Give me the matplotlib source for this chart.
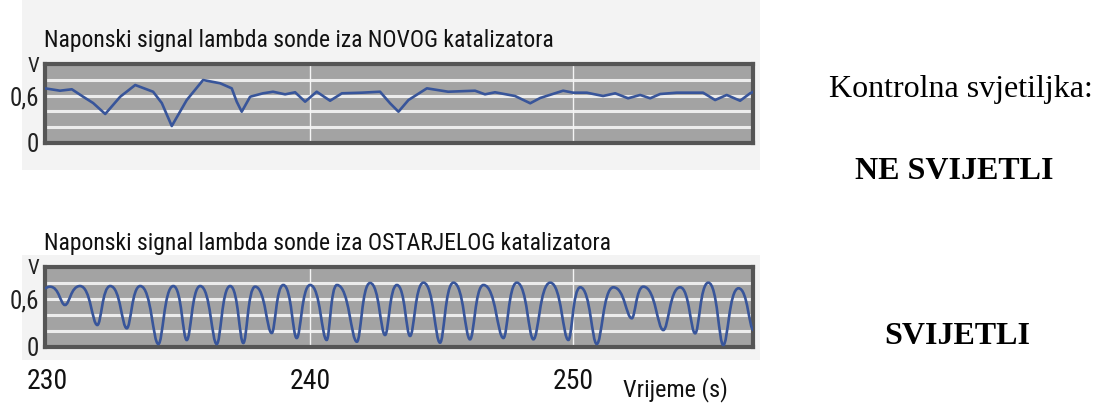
import matplotlib
matplotlib.use("Agg")
import matplotlib.pyplot as plt
from matplotlib import font_manager
from matplotlib.path import Path
from matplotlib.patches import PathPatch, Rectangle

# ---------------- data ----------------
title_new = "Naponski signal lambda sonde iza NOVOG katalizatora"
title_old = "Naponski signal lambda sonde iza OSTARJELOG katalizatora"
lamp_label = "Kontrolna svjetiljka:"
lamp_new = "NE SVIJETLI"
lamp_old = "SVIJETLI"
x_label = "Vrijeme (s)"

x_ticks = [230, 240, 250]
x_ticklabels = ["230", "240", "250"]
y_ticks = [0, 0.6, 1.0]
y_ticklabels = ["0", "0,6", "V"]

# new catalyst signal (time s, voltage V)
new_t = [229.92, 230.49, 230.94, 231.37, 231.75, 232.21, 232.78, 233.35, 234.03, 234.36,
         234.74, 235.31, 235.93, 236.58, 237.02, 237.21, 237.40, 237.72, 238.21, 238.59,
         239.05, 239.43, 239.81, 240.25, 240.76, 241.21, 241.97, 242.66, 243.04, 243.36,
         243.74, 244.44, 245.25, 246.27, 246.65, 247.03, 247.79, 248.37, 248.75, 249.62,
         250.00, 250.52, 251.14, 251.60, 252.09, 252.55, 252.93, 253.31, 253.94, 254.94,
         255.40, 255.84, 256.35, 256.73, 256.84]
new_v = [0.692, 0.662, 0.680, 0.586, 0.506, 0.367, 0.586, 0.734, 0.649, 0.506,
         0.215, 0.544, 0.797, 0.756, 0.692, 0.523, 0.396, 0.586, 0.629, 0.649,
         0.616, 0.642, 0.523, 0.649, 0.535, 0.629, 0.637, 0.649, 0.503, 0.396,
         0.544, 0.692, 0.649, 0.662, 0.616, 0.642, 0.595, 0.503, 0.570, 0.662,
         0.637, 0.637, 0.595, 0.629, 0.566, 0.608, 0.566, 0.620, 0.637, 0.637,
         0.544, 0.608, 0.535, 0.629, 0.646]

# aged catalyst signal: successive turning points (time s, voltage V)
old_t = [229.92, 230.11, 230.68, 231.25, 231.91, 232.40, 233.03, 233.54, 234.23, 234.80,
         235.31, 235.82, 236.45, 236.96, 237.46, 237.91, 238.54, 238.98, 239.49, 240.00,
         240.63, 241.02, 241.78, 242.28, 242.85, 243.30, 243.80, 244.31, 244.94, 245.45,
         246.08, 246.59, 247.35, 247.86, 248.49, 249.13, 249.82, 250.27, 250.90, 251.53,
         252.23, 252.67, 253.43, 254.07, 254.64, 255.14, 255.71, 256.29, 256.86]
old_v = [0.734, 0.754, 0.525, 0.762, 0.275, 0.762, 0.234, 0.762, 0.037, 0.762,
         0.087, 0.762, 0.037, 0.762, 0.050, 0.754, 0.175, 0.775, 0.112, 0.775,
         0.088, 0.775, 0.066, 0.800, 0.150, 0.775, 0.138, 0.804, 0.054, 0.804,
         0.096, 0.775, 0.112, 0.804, 0.096, 0.804, 0.088, 0.746, 0.038, 0.746,
         0.359, 0.754, 0.212, 0.746, 0.171, 0.804, 0.025, 0.734, 0.212]

# ---------------- styling ----------------
W, H = 1096, 407
DPI = 100
avail = {f.name for f in font_manager.fontManager.ttflist}
narrow = None
for cand in ["Liberation Sans Narrow", "Arial Narrow", "Roboto Condensed", "Open Sans Condensed"]:
    if cand in avail:
        narrow = cand
        break
if narrow is None:
    narrow_kw = dict(family="DejaVu Sans", stretch="condensed")
else:
    narrow_kw = dict(family=narrow)

PLOT_BG = "#a3a3a3"
GRID = "#ececec"
FRAME = "#555555"
LINE = "#38559a"
PANEL_BG = "#f3f3f3"

fig = plt.figure(figsize=(W / DPI, H / DPI), dpi=DPI)
fig.patch.set_facecolor("white")


def fx(px):
    return px / W


def fy(py):
    return 1 - py / H


# light backgrounds behind the screenshots
fig.add_artist(Rectangle((fx(22), fy(170)), fx(760) - fx(22), fy(0) - fy(170),
                         transform=fig.transFigure, facecolor=PANEL_BG, edgecolor="none", zorder=0))
fig.add_artist(Rectangle((fx(22), fy(360)), fx(760) - fx(22), fy(255) - fy(360),
                         transform=fig.transFigure, facecolor=PANEL_BG, edgecolor="none", zorder=0))


def make_axes(top_px, bottom_px):
    ax = fig.add_axes([fx(45), fy(bottom_px), fx(753) - fx(45), fy(top_px) - fy(bottom_px)])
    ax.set_facecolor(PLOT_BG)
    ax.set_xlim(229.92, 256.84)
    ax.set_ylim(0, 1.0)
    for yv in [0.2, 0.4, 0.6, 0.8]:
        ax.axhline(yv, color=GRID, lw=2.2, zorder=1)
    for xv in [240, 250]:
        ax.axvline(xv, color="#f4f4f4", lw=1.0, zorder=1)
    for s in ax.spines.values():
        s.set_color(FRAME)
        s.set_linewidth(3)
    ax.set_yticks(y_ticks)
    ax.set_yticklabels(y_ticklabels, fontsize=18, color="#222222", **narrow_kw)
    ax.yaxis.get_ticklabels()[-1].set_fontsize(15)
    ax.tick_params(axis="y", length=0, pad=4)
    return ax


ax1 = make_axes(64, 143)
ax1.set_xticks([])
ax1.plot(new_t, new_v, color=LINE, lw=1.9, solid_joinstyle="round", zorder=3)

ax2 = make_axes(267, 347)
ax2.set_xticks(x_ticks)
ax2.set_xticklabels(x_ticklabels, fontsize=20, color="#111111", **narrow_kw)
ax2.tick_params(axis="x", length=0, pad=15)

# smooth line through the turning points (horizontal tangents at each extremum)
verts = [(old_t[0], old_v[0])]
codes = [Path.MOVETO]
for i in range(len(old_t) - 1):
    t0, v0, t1, v1 = old_t[i], old_v[i], old_t[i + 1], old_v[i + 1]
    dt = t1 - t0
    k0 = 0.62 if v0 > v1 else 0.3
    k1 = 0.62 if v1 > v0 else 0.3
    verts += [(t0 + k0 * dt, v0), (t1 - k1 * dt, v1), (t1, v1)]
    codes += [Path.CURVE4] * 3
ax2.add_patch(PathPatch(Path(verts, codes), facecolor="none", edgecolor=LINE, lw=1.9, zorder=3))

# titles
fig.text(fx(44), fy(47), title_new, fontsize=17, color="#111111", ha="left", va="baseline", **narrow_kw)
fig.text(fx(44), fy(250), title_old, fontsize=17, color="#111111", ha="left", va="baseline", **narrow_kw)
fig.text(fx(623), fy(396), x_label, fontsize=17.5, color="#111111", ha="left", va="baseline", **narrow_kw)

# right side annotations
fig.text(fx(961), fy(97), lamp_label, fontsize=23, family="Liberation Serif",
         ha="center", va="baseline", color="black")
fig.text(fx(954), fy(179), lamp_new, fontsize=23, family="Liberation Serif", weight="bold",
         ha="center", va="baseline", color="black")
fig.text(fx(957), fy(344), lamp_old, fontsize=23, family="Liberation Serif", weight="bold",
         ha="center", va="baseline", color="black")

fig.savefig("out.png", dpi=DPI, facecolor="white")
